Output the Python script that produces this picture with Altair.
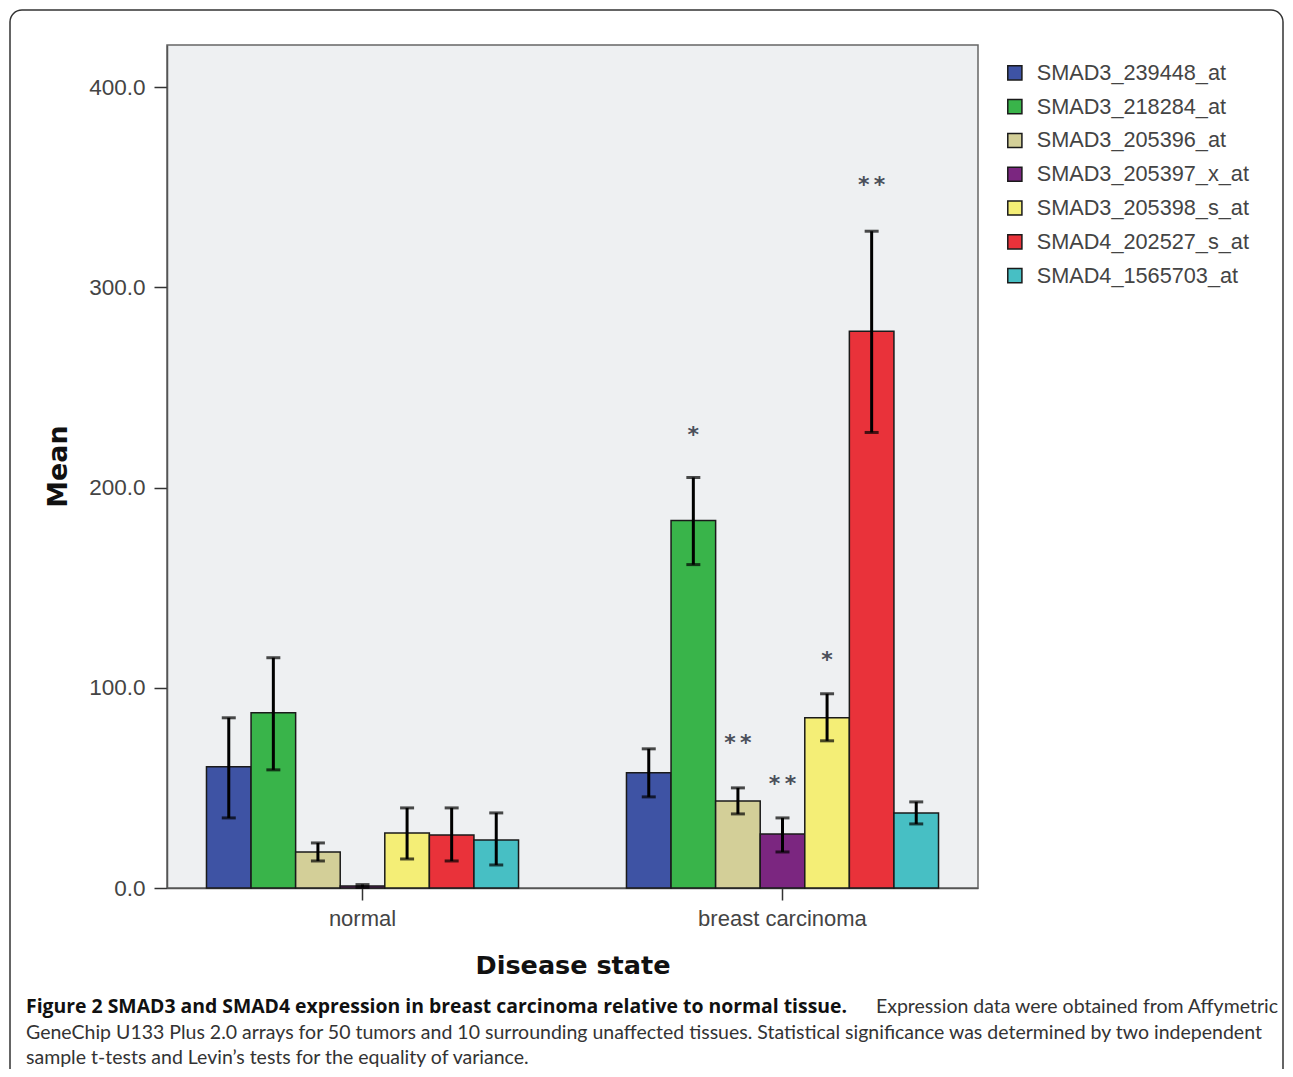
import altair as alt
import pandas as pd

probes = ["SMAD3_239448_at", "SMAD3_218284_at", "SMAD3_205396_at", "SMAD3_205397_x_at",
          "SMAD3_205398_s_at", "SMAD4_202527_s_at", "SMAD4_1565703_at"]
colors = ["#3E53A4", "#39B44A", "#D3CF98", "#7B2680", "#F4EE76", "#E9323A", "#47BFC4"]
states = ["normal", "breast carcinoma"]

normal_mean = [60.5, 87.5, 18.0, 1.0, 27.5, 26.5, 24.0]
normal_lo = [35.0, 59.0, 13.5, 0.3, 14.5, 13.5, 11.5]
normal_hi = [85.0, 115.0, 22.5, 1.7, 40.0, 40.0, 37.5]

carc_mean = [57.5, 183.5, 43.5, 27.0, 85.0, 278.0, 37.5]
carc_lo = [45.5, 161.5, 37.0, 18.0, 73.5, 227.5, 32.0]
carc_hi = [69.5, 205.0, 50.0, 35.0, 97.0, 328.0, 43.0]

carc_sig = ["", "*", "*\u2009*", "*\u2009*", "*", "*\u2009*", ""]
carc_sig_y = [0, 226.0, 72.5, 52.0, 114.0, 351.0, 0]

rows = []
for i, p in enumerate(probes):
    rows.append(dict(state="normal", probe=p, mean=normal_mean[i], lo=normal_lo[i],
                     hi=normal_hi[i], sig="", sig_y=0))
for i, p in enumerate(probes):
    rows.append(dict(state="breast carcinoma", probe=p, mean=carc_mean[i], lo=carc_lo[i],
                     hi=carc_hi[i], sig=carc_sig[i], sig_y=carc_sig_y[i]))
df = pd.DataFrame(rows)

x_enc = alt.X("state:N", sort=states,
              scale=alt.Scale(paddingInner=0.257, paddingOuter=0.094),
              axis=alt.Axis(title="Disease state", labelAngle=0, labelFont="Liberation Sans",
                            labelFontSize=22, labelColor="#444", labelPadding=8,
                            tickSize=12, tickColor="#333", tickWidth=1.5,
                            domainColor="#555", domainWidth=1.5,
                            titleFont="DejaVu Sans", titleFontSize=25.5, titleFontWeight="bold",
                            titleColor="#111", titlePadding=24))
xo_enc = alt.XOffset("probe:N", sort=probes, scale=alt.Scale(paddingInner=0, paddingOuter=0))
y_scale = alt.Scale(domain=[0, 421], nice=False, zero=True)

base = alt.Chart(df)

bars = base.mark_bar(stroke="#1a1a1a", strokeWidth=1.5).encode(
    x=x_enc,
    xOffset=xo_enc,
    y=alt.Y("mean:Q", scale=y_scale,
            axis=alt.Axis(title="Mean", values=[0, 100, 200, 300, 400], format=".1f",
                          grid=False, labelFont="Liberation Sans", labelFontSize=22.5,
                          labelColor="#444", labelPadding=9, tickSize=13, tickColor="#333",
                          tickWidth=1.5, domainColor="#555", domainWidth=1.5,
                          titleFont="DejaVu Sans", titleFontSize=27, titleFontWeight="bold",
                          titleColor="#111", titleX=-109, titleY=421, titleBaseline="middle",
                          titleAngle=-90)),
    color=alt.Color("probe:N", sort=probes,
                    scale=alt.Scale(domain=probes, range=colors),
                    legend=alt.Legend(title=None, orient="none", legendX=837, legendY=17,
                                      symbolType="square", symbolSize=200,
                                      symbolStrokeColor="#1a1a1a", symbolStrokeWidth=1.5,
                                      labelFont="Liberation Sans", labelFontSize=21.7,
                                      labelColor="#444", labelOffset=11, rowPadding=10.8,
                                      labelLimit=0, padding=0)),
)

err = base.mark_rule(color="black", strokeWidth=3).encode(
    x=alt.X("state:N", sort=states), xOffset=xo_enc,
    y=alt.Y("lo:Q", scale=y_scale), y2="hi:Q")

cap_lo = base.mark_tick(color="black", thickness=3, size=14).encode(
    x=alt.X("state:N", sort=states), xOffset=xo_enc, y=alt.Y("lo:Q", scale=y_scale))
cap_hi = base.mark_tick(color="black", thickness=3, size=14).encode(
    x=alt.X("state:N", sort=states), xOffset=xo_enc, y=alt.Y("hi:Q", scale=y_scale))

stars = base.transform_filter(alt.datum.sig != "").mark_text(
    font="DejaVu Sans", fontSize=22, fontWeight="bold", color="#4a4f5a", baseline="middle"
).encode(
    x=alt.X("state:N", sort=states), xOffset=xo_enc,
    y=alt.Y("sig_y:Q", scale=y_scale), text="sig:N")

one = alt.Data(values=[{"a": 1}])

frame = alt.Chart(one).mark_rect(fill=None, stroke="#333", strokeWidth=1.5, cornerRadius=12).encode(
    x=alt.value(-157), x2=alt.value(1116), y=alt.value(-35), y2=alt.value(1060))

cap1 = alt.Chart(one).mark_text(
    text="Figure 2 SMAD3 and SMAD4 expression in breast carcinoma relative to normal tissue.",
    font="Open Sans", fontSize=19.4, fontWeight="bold", color="#111", align="left", baseline="middle"
).encode(x=alt.value(-141), y=alt.value(962))
cap1b = alt.Chart(one).mark_text(
    text="Expression data were obtained from Affymetric",
    font="Lato", fontSize=19.5, color="#333", align="right", baseline="middle"
).encode(x=alt.value(1111), y=alt.value(962))
cap2 = alt.Chart(one).mark_text(
    text="GeneChip U133 Plus 2.0 arrays for 50 tumors and 10 surrounding unaffected tissues. Statistical significance was determined by two independent",
    font="Lato", fontSize=19.5, color="#333", align="left", baseline="middle"
).encode(x=alt.value(-141), y=alt.value(988))
cap3 = alt.Chart(one).mark_text(
    text="sample t-tests and Levin\u2019s tests for the equality of variance.",
    font="Lato", fontSize=19.5, color="#333", align="left", baseline="middle"
).encode(x=alt.value(-141), y=alt.value(1013))

chart = alt.layer(bars, err, cap_lo, cap_hi, stars, frame, cap1, cap1b, cap2, cap3).properties(
    width=811, height=843,
    autosize=alt.AutoSizeParams(type="none"),
    padding={"left": 159, "top": 37, "right": 307, "bottom": 181},
    background="white",
).configure_view(fill="#EEF0F2", stroke="#666", strokeWidth=1.5)

chart.save("out.html", embed_options={"renderer": "svg", "actions": False})
